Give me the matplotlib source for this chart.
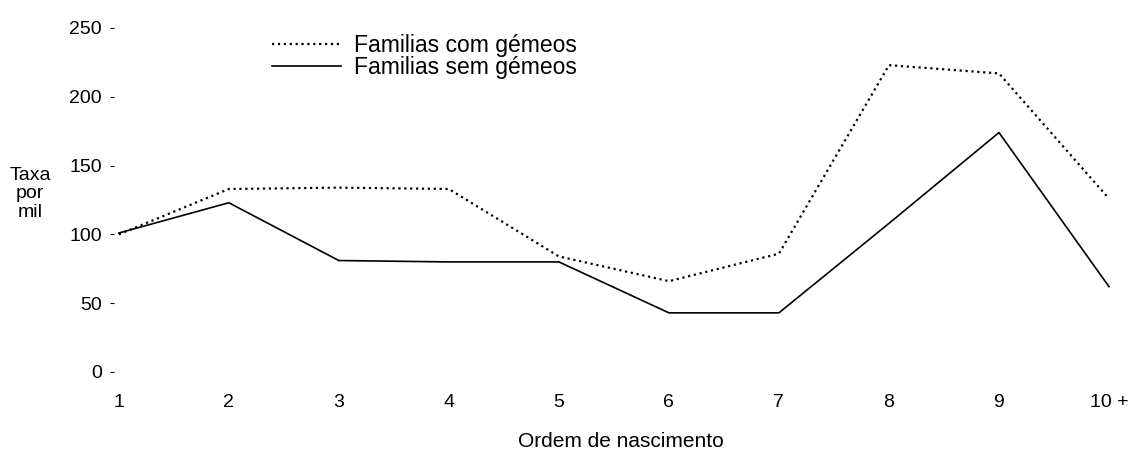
import matplotlib
matplotlib.use("Agg")
import matplotlib.pyplot as plt

# ordem de nascimento (1 .. 10+)
ordem = [1, 2, 3, 4, 5, 6, 7, 8, 9, 10]
ordem_labels = ["1", "2", "3", "4", "5", "6", "7", "8", "9", "10 +"]

# taxa por mil
com_gemeos = [100, 133, 134, 133, 84, 66, 86, 223, 217, 126]
sem_gemeos = [101, 123, 81, 80, 80, 43, 43, 108, 174, 62]

y_ticks = [0, 50, 100, 150, 200, 250]

plt.rcParams['font.family'] = ['Liberation Sans', 'DejaVu Sans']

fig = plt.figure(figsize=(11.34, 4.5), dpi=100)
ax = fig.add_axes([110 / 1134, 78 / 450, 1021 / 1134, 344 / 450])

ax.plot(ordem, com_gemeos, color='black', linestyle=':', linewidth=1.6,
        label='Familias com gémeos', clip_on=False)
ax.plot(ordem, sem_gemeos, color='black', linestyle='-', linewidth=1.2,
        label='Familias sem gémeos', clip_on=False)

# linha de base (apagada no original)
ax.axhline(0, color='#999999', linestyle=(0, (1, 6)), linewidth=0.8)

ax.set_xlim(0.92, 10.2)
ax.set_ylim(0, 250)
ax.set_xticks(ordem)
ax.set_xticklabels(ordem_labels)
ax.set_yticks(y_ticks)

for s in ax.spines.values():
    s.set_visible(False)
ax.tick_params(axis='x', length=0, pad=16, labelsize=14)
ax.tick_params(axis='y', direction='in', length=3, width=0.8, pad=6, labelsize=14)

ax.set_xlabel('Ordem de nascimento', fontsize=15, labelpad=15)
fig.text(30 / 1134, 1 - 194 / 450, 'Taxa\npor\nmil', ha='center', va='center',
         fontsize=14, linespacing=1.1)

fig.legend(loc='upper left', bbox_to_anchor=(272 / 1134, 1 - 34 / 450),
           frameon=False, fontsize=16.5, handlelength=3.0, handletextpad=0.6,
           labelspacing=-0.05, borderpad=0, borderaxespad=0)

fig.savefig('out.png', dpi=100)
